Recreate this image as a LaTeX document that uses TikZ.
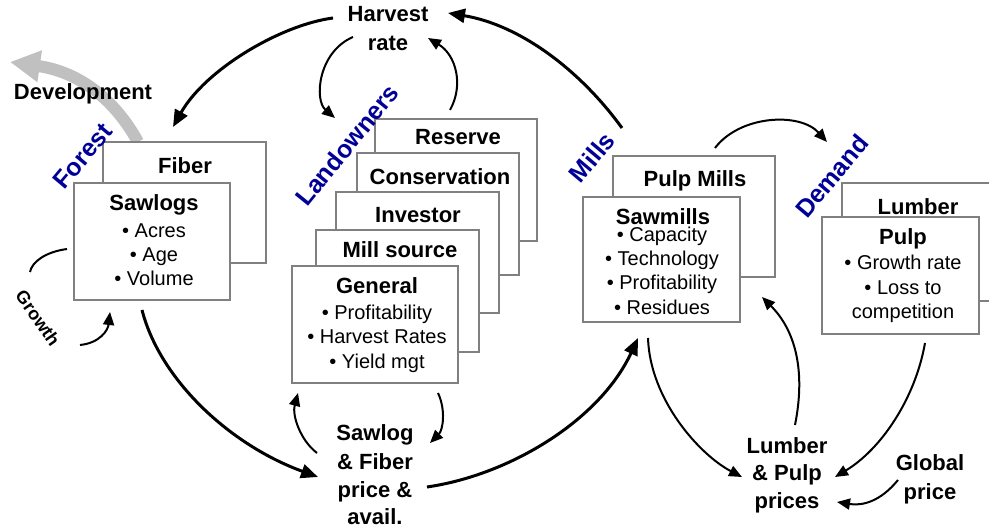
\documentclass[tikz,border=0pt]{standalone}
\usepackage{fontspec}
\setmainfont{Liberation Sans}
\usetikzlibrary{arrows.meta,fit}
\definecolor{lblblue}{RGB}{0,0,153}
\definecolor{boxgray}{RGB}{128,128,128}
\definecolor{devgray}{RGB}{192,192,192}
\tikzset{
  boxst/.style={draw=boxgray, line width=1.2pt, fill=white, inner sep=0pt},
  ttl/.style={font=\fontsize{22}{26}\selectfont\bfseries, anchor=base, inner sep=0pt},
  itm/.style={font=\fontsize{20}{24}\selectfont, anchor=base, inner sep=0pt},
  grp/.style={font=\fontsize{25}{28}\selectfont\bfseries, text=lblblue, inner sep=0pt},
  grw/.style={font=\fontsize{18}{20}\selectfont\bfseries, inner sep=0pt},
  thickarr/.style={line width=3pt, -{Triangle[length=17pt,width=14pt]}},
  thinarr/.style={line width=2pt, -{Triangle[length=13pt,width=11pt]}},
  plainln/.style={line width=2pt},
  devarr/.style={line width=12pt, draw=devgray, -{Triangle[length=30pt,width=30pt]}},
}
\begin{document}
\begin{tikzpicture}[x=1pt,y=-1pt]
\useasboundingbox (0,0) rectangle (989,529);
\clip (0,0) rectangle (989,529);

% ---------- connector end points ----------
\coordinate (devS) at (138,142);
\coordinate (devE) at (10,62);
\coordinate (hrL) at (333,18);
\coordinate (fibT) at (173,127);
\coordinate (millsT) at (622,128);
\coordinate (hrR) at (448,13);
\coordinate (hrBL) at (353,37);
\coordinate (landT) at (335,118);
\coordinate (resT) at (450,110);
\coordinate (hrBR) at (428,38);
\coordinate (grA) at (67,249);
\coordinate (grB) at (30,272);
\coordinate (grC) at (80,345);
\coordinate (grD) at (110,312);
\coordinate (sawB) at (142,310);
\coordinate (sfL) at (318,477);
\coordinate (sfUL) at (317,453);
\coordinate (genBL) at (298,393);
\coordinate (genBR) at (438,393);
\coordinate (sfUR) at (430,443);
\coordinate (sfR) at (427,487);
\coordinate (smBL) at (638,338);
\coordinate (smB) at (648,338);
\coordinate (lpL) at (742,477);
\coordinate (lpT) at (795,425);
\coordinate (smR) at (762,297);
\coordinate (pulpB) at (925,343);
\coordinate (lpR) at (835,477);
\coordinate (glL) at (898,480);
\coordinate (lpBR) at (837,502);
\coordinate (pmT) at (715,148);
\coordinate (demL) at (827,142);

% ---------- development arrow (behind boxes) ----------
\draw[devarr] (devS) .. controls (115,100) and (80,72) .. (devE);

% ---------- Forest boxes ----------
\node[boxst, fit={(103,142) (266,263)}] (fiberbox) {};
\node[boxst, fit={(74,183) (230,300)}] (sawlogsbox) {};
\node[ttl] (fiber) at (185,174) {Fiber};
\node[ttl] (sawlogs) at (154,211) {Sawlogs};
\node[itm] (acres) at (154,238) {• Acres};
\node[itm] (age) at (154,262) {• Age};
\node[itm] (volume) at (154,286) {• Volume};

% ---------- Landowner boxes ----------
\node[boxst, fit={(375,119) (537,241)}] (reservebox) {};
\node[boxst, fit={(357,153) (519,275)}] (conservbox) {};
\node[boxst, fit={(336,192) (499,313)}] (investorbox) {};
\node[boxst, fit={(316,230) (479,352)}] (millsrcbox) {};
\node[boxst, fit={(292,266) (458,383)}] (generalbox) {};
\node[ttl] (reserve) at (458,145) {Reserve};
\node[ttl] (conserv) at (440,185) {Conservation};
\node[ttl] (investor) at (418,223) {Investor};
\node[ttl] (millsrc) at (400,258) {Mill source};
\node[ttl] (general) at (377,294) {General};
\node[itm] (gp1) at (377,320) {• Profitability};
\node[itm] (gp2) at (377,344) {• Harvest Rates};
\node[itm] (gp3) at (377,369) {• Yield mgt};

% ---------- Mill boxes ----------
\node[boxst, fit={(613,156) (775,277)}] (pulpmillbox) {};
\node[boxst, fit={(583,197) (740,322)}] (sawmillbox) {};
\node[ttl] (pulpmill) at (695,187) {Pulp Mills};
\node[ttl] (sawmill) at (663,225) {Sawmills};
\node[itm] (sm1) at (662,242) {• Capacity};
\node[itm] (sm2) at (662,266) {• Technology};
\node[itm] (sm3) at (662,290) {• Profitability};
\node[itm] (sm4) at (662,315) {• Residues};

% ---------- Demand boxes ----------
\node[boxst, fit={(842,183) (1000,301)}] (lumberbox) {};
\node[boxst, fit={(822,217) (979,334)}] (pulpbox) {};
\node[ttl] (lumber) at (918,215) {Lumber};
\node[ttl] (pulp) at (903,245) {Pulp};
\node[itm] (pd1) at (903,270) {• Growth rate};
\node[itm] (pd2) at (903,295) {• Loss to};
\node[itm] (pd3) at (903,319) {competition};

% ---------- group labels ----------
\node[grp, rotate=50] (forest) at (83,156) {Forest};
\node[grp, rotate=51] (landowners) at (347,145) {Landowners};
\node[grp, rotate=50] (mills) at (592,157) {Mills};
\node[grp, rotate=50] (demand) at (832,176) {Demand};

% ---------- free labels ----------
\node[ttl] (dev) at (83,100) {Development};
\node[ttl] (hr1) at (388,22) {Harvest};
\node[ttl] (hr2) at (388,51) {rate};
\node[ttl] (sf1) at (375,441) {Sawlog};
\node[ttl] (sf2) at (375,470) {\& Fiber};
\node[ttl] (sf3) at (375,497) {price \&};
\node[ttl] (sf4) at (375,525) {avail.};
\node[ttl] (lp1) at (787,454) {Lumber};
\node[ttl] (lp2) at (787,481) {\& Pulp};
\node[ttl] (lp3) at (787,508) {prices};
\node[ttl] (gl1) at (930,471) {Global};
\node[ttl] (gl2) at (930,500) {price};
\node[grw, rotate=-55] (growth) at (38,318) {Growth};

% ---------- connectors ----------
\draw[thickarr] (hrL) .. controls (280,25) and (205,70) .. (fibT);
\draw[thickarr] (millsT) .. controls (580,70) and (520,25) .. (hrR);
\draw[thinarr] (hrBL) .. controls (318,52) and (314,100) .. (landT);
\draw[thinarr] (resT) .. controls (464,85) and (456,55) .. (hrBR);
\draw[plainln] (grA) .. controls (45,252) and (32,262) .. (grB);
\draw[thinarr] (grC) .. controls (100,343) and (108,330) .. (grD);
\draw[thickarr] (sawB) .. controls (160,380) and (230,445) .. (sfL);
\draw[thinarr] (sfUL) .. controls (300,440) and (292,415) .. (genBL);
\draw[thinarr] (genBR) .. controls (446,410) and (443,430) .. (sfUR);
\draw[thickarr] (sfR) .. controls (510,475) and (600,420) .. (smBL);
\draw[thinarr] (smB) .. controls (650,400) and (700,455) .. (lpL);
\draw[thinarr] (lpT) .. controls (806,370) and (795,330) .. (smR);
\draw[thinarr] (pulpB) .. controls (915,400) and (880,450) .. (lpR);
\draw[thinarr] (glL) .. controls (880,502) and (862,506) .. (lpBR);
\draw[thinarr] (pmT) .. controls (740,115) and (800,112) .. (demL);
\end{tikzpicture}
\end{document}
